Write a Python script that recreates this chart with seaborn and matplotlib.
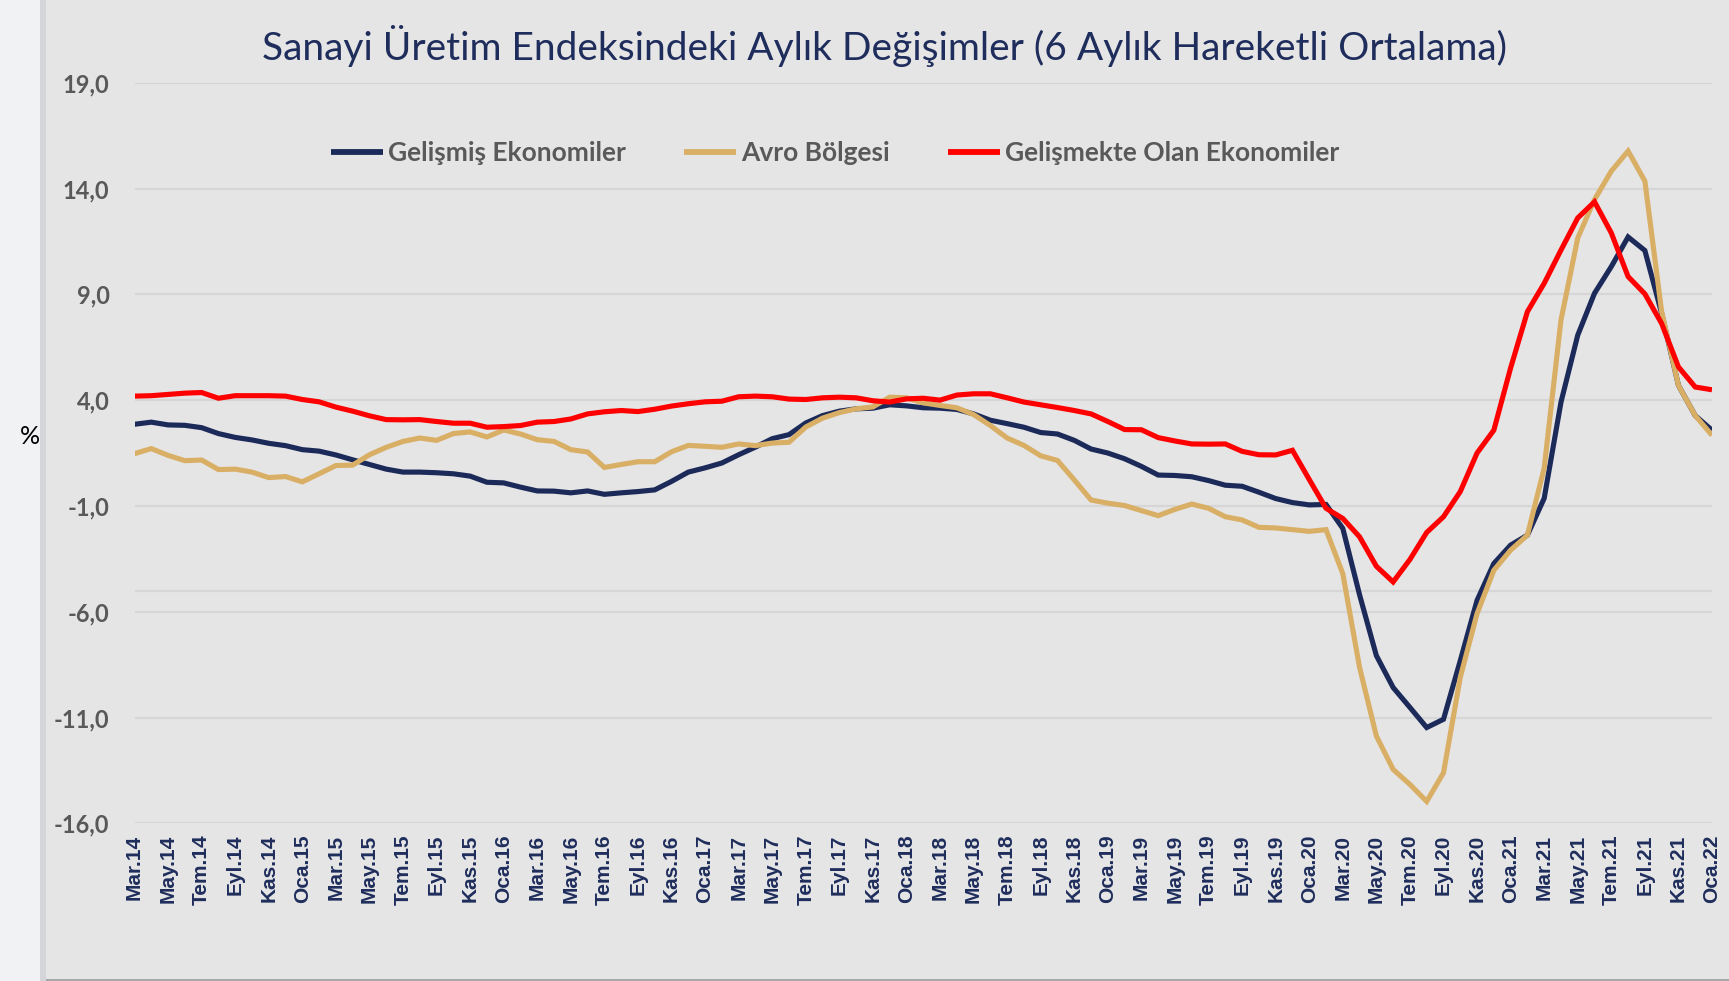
import numpy as np
import pandas as pd
import matplotlib
matplotlib.use("Agg")
import matplotlib.pyplot as plt
import seaborn as sns
from matplotlib.patches import Rectangle

# ---------------- data ----------------
tick_labels = [
    "Mar.14", "May.14", "Tem.14", "Eyl.14", "Kas.14",
    "Oca.15", "Mar.15", "May.15", "Tem.15", "Eyl.15", "Kas.15",
    "Oca.16", "Mar.16", "May.16", "Tem.16", "Eyl.16", "Kas.16",
    "Oca.17", "Mar.17", "May.17", "Tem.17", "Eyl.17", "Kas.17",
    "Oca.18", "Mar.18", "May.18", "Tem.18", "Eyl.18", "Kas.18",
    "Oca.19", "Mar.19", "May.19", "Tem.19", "Eyl.19", "Kas.19",
    "Oca.20", "Mar.20", "May.20", "Tem.20", "Eyl.20", "Kas.20",
    "Oca.21", "Mar.21", "May.21", "Tem.21", "Eyl.21", "Kas.21",
    "Oca.22",
]

gelismis = [
    2.86, 2.96, 2.83, 2.81, 2.70, 2.42, 2.24, 2.12, 1.96, 1.85,
    1.66, 1.59, 1.41, 1.18, 0.96, 0.74, 0.60, 0.60, 0.57, 0.52,
    0.41, 0.12, 0.09, -0.11, -0.29, -0.30, -0.38, -0.29, -0.45, -0.38,
    -0.32, -0.24, 0.16, 0.60, 0.80, 1.03, 1.42, 1.78, 2.18, 2.37,
    2.92, 3.27, 3.48, 3.59, 3.62, 3.78, 3.73, 3.64, 3.62, 3.56,
    3.35, 3.05, 2.89, 2.72, 2.47, 2.40, 2.10, 1.69, 1.50, 1.23,
    0.87, 0.46, 0.44, 0.38, 0.20, -0.02, -0.07, -0.35, -0.65, -0.84,
    -0.95, -0.93, -2.06, -5.20, -8.07, -9.58, -10.52, -11.47, -11.08, -8.31,
    -5.46, -3.72, -2.85, -2.38, -0.64, 3.90, 7.07, 9.05, 10.31, 11.71,
    11.07, 8.10, 4.70, 3.27, 2.58,
]

avro = [
    1.47, 1.71, 1.39, 1.14, 1.17, 0.72, 0.74, 0.60, 0.34, 0.39,
    0.14, 0.52, 0.91, 0.93, 1.42, 1.77, 2.05, 2.21, 2.10, 2.42,
    2.50, 2.26, 2.59, 2.40, 2.13, 2.05, 1.66, 1.55, 0.82, 0.96,
    1.09, 1.09, 1.56, 1.86, 1.82, 1.77, 1.93, 1.85, 1.97, 2.01,
    2.73, 3.15, 3.41, 3.59, 3.68, 4.14, 4.11, 3.87, 3.75, 3.64,
    3.32, 2.80, 2.21, 1.86, 1.37, 1.15, 0.23, -0.72, -0.87, -0.98,
    -1.22, -1.46, -1.16, -0.91, -1.11, -1.51, -1.66, -2.01, -2.04, -2.12,
    -2.20, -2.12, -4.20, -8.63, -11.87, -13.45, -14.16, -14.96, -13.61, -9.10,
    -6.09, -4.04, -3.09, -2.38, 0.79, 7.78, 11.66, 13.48, 14.82, 15.77,
    14.35, 8.18, 4.70, 3.27, 2.34,
]

gelismekte = [
    4.19, 4.21, 4.27, 4.33, 4.36, 4.09, 4.21, 4.21, 4.21, 4.19,
    4.03, 3.92, 3.67, 3.48, 3.26, 3.08, 3.07, 3.08, 2.99, 2.91,
    2.91, 2.72, 2.75, 2.80, 2.96, 2.99, 3.11, 3.35, 3.45, 3.51,
    3.46, 3.57, 3.72, 3.83, 3.92, 3.95, 4.16, 4.19, 4.16, 4.05,
    4.03, 4.11, 4.14, 4.11, 3.97, 3.91, 4.06, 4.09, 4.00, 4.24,
    4.30, 4.30, 4.11, 3.91, 3.78, 3.65, 3.51, 3.35, 2.99, 2.61,
    2.60, 2.23, 2.07, 1.93, 1.92, 1.93, 1.58, 1.42, 1.41, 1.63,
    0.25, -1.11, -1.59, -2.46, -3.85, -4.59, -3.53, -2.25, -1.51, -0.32,
    1.50, 2.58, 5.52, 8.18, 9.52, 11.09, 12.61, 13.37, 11.90, 9.84,
    9.02, 7.62, 5.57, 4.62, 4.49,
]

series_names = ["Gelişmiş Ekonomiler", "Avro Bölgesi", "Gelişmekte Olan Ekonomiler"]
y_ticks = [-16, -11, -6, -1, 4, 9, 14, 19]

# ---------------- style ----------------
sns.set_theme(style="white")
plt.rcParams["font.family"] = ["Lato", "DejaVu Sans"]

NAVY = "#1C2A59"
TAN = "#D9AF66"
RED = "#FF0000"
GRAY_TXT = "#595959"
PANEL = "#E5E5E5"
GRID = "#D6D6D6"

W, H = 1729, 981
fig = plt.figure(figsize=(W / 100, H / 100), dpi=100)
fig.patch.set_facecolor("#F1F2F4")

# gray slide panel with a soft left shadow
fig.add_artist(Rectangle((40 / W, 0), 8 / W, 1, transform=fig.transFigure,
                         facecolor="#D4D5D8", edgecolor="none", zorder=0))
fig.add_artist(Rectangle((46 / W, 2 / H), 1 - 46 / W, 1, transform=fig.transFigure,
                         facecolor=PANEL, edgecolor="none", zorder=0))
fig.add_artist(Rectangle((46 / W, 0), 1 - 46 / W, 2 / H, transform=fig.transFigure,
                         facecolor="#A8A8A8", edgecolor="none", zorder=0))

left, right, top, bottom = 134.5, 1712, 82.7, 823.4
ax = fig.add_axes([left / W, (H - bottom) / H, (right - left) / W, (bottom - top) / H])
ax.set_facecolor("none")

n = len(gelismis)
df = pd.DataFrame({
    "idx": np.tile(np.arange(n), 3),
    "value": gelismis + avro + gelismekte,
    "series": np.repeat(series_names, n),
})
palette = {series_names[0]: NAVY, series_names[1]: TAN, series_names[2]: RED}
sns.lineplot(data=df, x="idx", y="value", hue="series", palette=palette,
             hue_order=series_names, linewidth=3.7, ax=ax, zorder=3)
for ln in ax.get_lines():
    ln.set_solid_joinstyle("miter")
    ln.set_solid_capstyle("butt")

ax.set_xlim(0, n - 1)
ax.set_ylim(-16, 19)
ax.set_yticks(y_ticks)
ax.set_yticklabels([f"{v:.1f}".replace(".", ",") for v in y_ticks],
                   fontsize=17, fontweight="bold", color=GRAY_TXT)
ax.set_xticks(np.arange(0, n, 2))
ax.set_xticklabels(tick_labels, rotation=90, fontsize=15, fontweight="bold",
                   color="#1F2D5C", family=["Liberation Sans", "DejaVu Sans"])
ax.tick_params(axis="y", length=0, pad=18)
ax.tick_params(axis="x", length=0, pad=8)
ax.yaxis.grid(True, color=GRID, linewidth=1.6, zorder=0)
ax.xaxis.grid(False)
for s in ax.spines.values():
    s.set_visible(False)
ax.set_xlabel("")
ax.set_ylabel("")

# extra faint horizontal rule present in the slide
ax.axhline(-5.0, color=GRID, linewidth=1.6, zorder=0)

leg = ax.legend(loc="center", bbox_to_anchor=(0.444, 0.905), ncol=3, frameon=False,
                handlelength=1.97, handletextpad=0.2, columnspacing=2.2,
                prop={"weight": "bold", "size": 19})
for t in leg.get_texts():
    t.set_color(GRAY_TXT)
for h in leg.get_lines():
    h.set_linewidth(4.2)

fig.text(884 / W, 1 - 46 / H,
         "Sanayi Üretim Endeksindeki Aylık Değişimler (6 Aylık Hareketli Ortalama)",
         ha="center", va="center", fontsize=28, color="#1F2D5C")
fig.text(30 / W, 1 - 437 / H, "%", ha="center", va="center", fontsize=18, color="black")

fig.savefig("out.png", dpi=100, facecolor=fig.get_facecolor())
